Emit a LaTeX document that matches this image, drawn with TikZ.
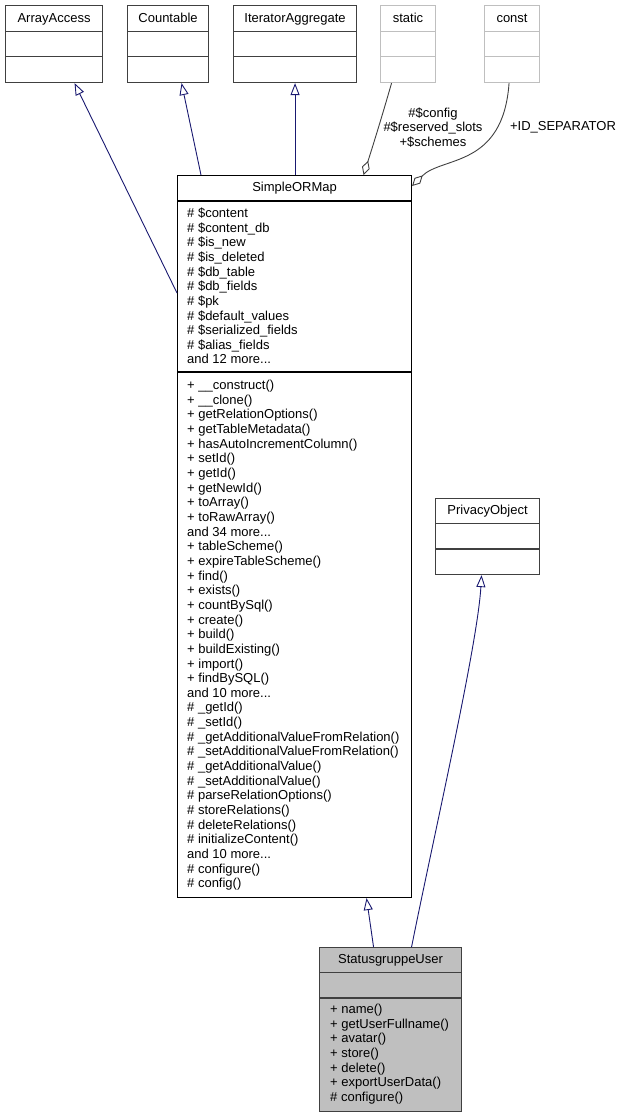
\documentclass[tikz,border=0pt]{standalone}
\usepackage{fontspec}
\setmainfont{Liberation Sans}
\usetikzlibrary{arrows.meta}

\begin{document}
\begin{tikzpicture}[x=1pt, y=-1pt,
    every node/.style={font=\fontsize{13}{14.65}\selectfont, inner sep=0pt},
    cls/.style={draw=black!75, line width=1.1pt, anchor=north west},
    extcls/.style={draw=black!25, line width=1.1pt, anchor=north west},
    hdr/.style={anchor=base},
    mem/.style={anchor=north west, align=left},
    inherit/.style={draw={rgb,255:red,25;green,25;blue,112}, line width=0.9pt, -{Triangle[open, length=12pt, width=9pt]}},
    usage/.style={draw=black!75, line width=0.9pt, -{Diamond[open, length=15pt, width=8pt]}}]
    \useasboundingbox (0,0) rectangle (626,1117);

    % interfaces on top
    \node[cls, minimum width=97pt, minimum height=77pt] (aa) at (5,5) {};
    \node[hdr] (aat) at ([yshift=-17pt]aa.north) {ArrayAccess};
    \draw[draw=black!75, line width=1.1pt] ([yshift=-26.5pt]aa.north west) -- ([yshift=-26.5pt]aa.north east);
    \draw[draw=black!75, line width=1.1pt] ([yshift=-51.5pt]aa.north west) -- ([yshift=-51.5pt]aa.north east);

    \node[cls, minimum width=81pt, minimum height=77pt] (cnt) at (127,5) {};
    \node[hdr] (cntt) at ([yshift=-17pt]cnt.north) {Countable};
    \draw[draw=black!75, line width=1.1pt] ([yshift=-26.5pt]cnt.north west) -- ([yshift=-26.5pt]cnt.north east);
    \draw[draw=black!75, line width=1.1pt] ([yshift=-51.5pt]cnt.north west) -- ([yshift=-51.5pt]cnt.north east);

    \node[cls, minimum width=123pt, minimum height=77pt] (ita) at (233,5) {};
    \node[hdr] (itat) at ([yshift=-17pt]ita.north) {IteratorAggregate};
    \draw[draw=black!75, line width=1.1pt] ([yshift=-26.5pt]ita.north west) -- ([yshift=-26.5pt]ita.north east);
    \draw[draw=black!75, line width=1.1pt] ([yshift=-51.5pt]ita.north west) -- ([yshift=-51.5pt]ita.north east);

    \node[extcls, minimum width=55pt, minimum height=77pt] (stat) at (380,5) {};
    \node[hdr] (statt) at ([yshift=-17pt]stat.north) {static};
    \draw[draw=black!25, line width=1.1pt] ([yshift=-26.5pt]stat.north west) -- ([yshift=-26.5pt]stat.north east);
    \draw[draw=black!25, line width=1.1pt] ([yshift=-51.5pt]stat.north west) -- ([yshift=-51.5pt]stat.north east);

    \node[extcls, minimum width=55pt, minimum height=77pt] (cnst) at (484,5) {};
    \node[hdr] (cnstt) at ([yshift=-17pt]cnst.north) {const};
    \draw[draw=black!25, line width=1.1pt] ([yshift=-26.5pt]cnst.north west) -- ([yshift=-26.5pt]cnst.north east);
    \draw[draw=black!25, line width=1.1pt] ([yshift=-51.5pt]cnst.north west) -- ([yshift=-51.5pt]cnst.north east);

    % base class
    \node[cls, draw=black, minimum width=234pt, minimum height=722pt] (som) at (177,175) {};
    \node[hdr] (somt) at ([yshift=-16.8pt]som.north) {SimpleORMap};
    \draw[line width=1.1pt] ([yshift=-26pt]som.north west) -- ([yshift=-26pt]som.north east);
    \draw[line width=1.1pt] ([yshift=-197pt]som.north west) -- ([yshift=-197pt]som.north east);
    \node[mem] (soma) at ([xshift=10pt, yshift=-32pt]som.north west)
      {\strut\# \$content\\\# \$content\_db\\\# \$is\_new\\\# \$is\_deleted\\\# \$db\_table\\\# \$db\_fields\\\# \$pk\\\# \$default\_values\\\# \$serialized\_fields\\\# \$alias\_fields\\and 12 more...};
    \node[mem] (somm) at ([xshift=10pt, yshift=-204.2pt]som.north west)
      {\strut+ \_\_construct()\\+ \_\_clone()\\+ getRelationOptions()\\+ getTableMetadata()\\+ hasAutoIncrementColumn()\\+ setId()\\+ getId()\\+ getNewId()\\+ toArray()\\+ toRawArray()\\and 34 more...\\+ tableScheme()\\+ expireTableScheme()\\+ find()\\+ exists()\\+ countBySql()\\+ create()\\+ build()\\+ buildExisting()\\+ import()\\+ findBySQL()\\and 10 more...\\\# \_getId()\\\# \_setId()\\\# \_getAdditionalValueFromRelation()\\\# \_setAdditionalValueFromRelation()\\\# \_getAdditionalValue()\\\# \_setAdditionalValue()\\\# parseRelationOptions()\\\# storeRelations()\\\# deleteRelations()\\\# initializeContent()\\and 10 more...\\\# configure()\\\# config()};

    \node[cls, minimum width=104pt, minimum height=76pt] (priv) at (435,498) {};
    \node[hdr] (privt) at ([yshift=-16.8pt]priv.north) {PrivacyObject};
    \draw[draw=black!75, line width=1.1pt] ([yshift=-25.5pt]priv.north west) -- ([yshift=-25.5pt]priv.north east);
    \draw[draw=black!75, line width=1.1pt] ([yshift=-51pt]priv.north west) -- ([yshift=-51pt]priv.north east);

    % this class
    \node[cls, fill=black!25, minimum width=142pt, minimum height=164pt] (sgu) at (319,947) {};
    \node[hdr] (sgut) at ([yshift=-16.8pt]sgu.north) {StatusgruppeUser};
    \draw[draw=black!75, line width=1.1pt] ([yshift=-25.5pt]sgu.north west) -- ([yshift=-25.5pt]sgu.north east);
    \draw[draw=black!75, line width=1.1pt] ([yshift=-51pt]sgu.north west) -- ([yshift=-51pt]sgu.north east);
    \node[mem] (sgum) at ([xshift=11pt, yshift=-56.2pt]sgu.north west)
      {\strut+ name()\\+ getUserFullname()\\+ avatar()\\+ store()\\+ delete()\\+ exportUserData()\\\# configure()};

    \draw[inherit] ([yshift=-118pt]som.north west) -- ([xshift=20.5pt]aa.south);
    \draw[inherit] ([xshift=24pt]som.north west) -- ([xshift=13.5pt]cnt.south);
    \draw[inherit] (som.north -| ita.south) -- (ita.south);
    \draw[usage] ([xshift=-16.5pt]stat.south) .. controls +(-10,35) and +(8,-25) .. ([xshift=69pt]som.north);
    \draw[usage] ([xshift=-3pt]cnst.south) .. controls +(-6,85) and +(30,-30) .. ([yshift=-11pt]som.north east);
    \node[align=center] (cfglbl) at (433,127.5) {\#\$config\\\#\$reserved\_slots\\+\$schemes};
    \node (seplbl) at (563,127) {+ID\_SEPARATOR};
    \draw[inherit] ([xshift=-17pt]sgu.north) -- ([xshift=72pt]som.south);
    \draw[inherit] ([xshift=21pt]sgu.north) .. controls +(22,-110) and +(-4,70) .. ([xshift=-6pt]priv.south);
  \end{tikzpicture}
\end{document}
